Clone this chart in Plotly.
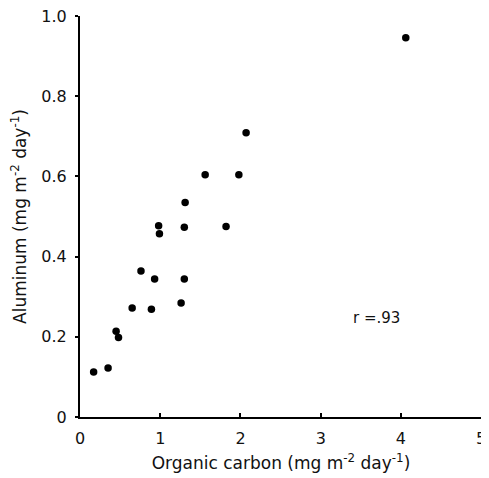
import plotly.graph_objects as go

organic_carbon = [0.17, 0.35, 0.45, 0.48, 0.65, 0.76, 0.89, 0.93, 0.98, 0.99,
                  1.26, 1.30, 1.30, 1.31, 1.56, 1.82, 1.98, 2.07, 4.06]
aluminum = [0.112, 0.122, 0.214, 0.198, 0.272, 0.364, 0.269, 0.344, 0.477, 0.457,
            0.284, 0.344, 0.473, 0.535, 0.604, 0.475, 0.604, 0.709, 0.946]

x_ticks = [0, 1, 2, 3, 4, 5]
x_ticktext = ["0", "1", "2", "3", "4", "5"]
y_ticks = [0, 0.2, 0.4, 0.6, 0.8, 1.0]
y_ticktext = ["0", "0.2", "0.4", "0.6", "0.8", "1.0"]

tick_font = dict(family="DejaVu Sans, sans-serif", size=16, color="#111")
title_font = dict(family="DejaVu Sans, sans-serif", size=17, color="#111")

fig = go.Figure()
fig.add_trace(go.Scatter(
    x=organic_carbon, y=aluminum, mode="markers",
    marker=dict(size=7.5, color="#000"),
    showlegend=False, cliponaxis=False,
))
fig.add_annotation(x=3.69, y=0.246, text="r =.93", showarrow=False,
                   font=dict(family="DejaVu Sans, sans-serif", size=15, color="#111"),
                   xref="x", yref="y")

# The page body adds an 8px offset, so the figure is sized to fill the rest of the window.
fig.update_layout(
    width=481, height=470,
    margin=dict(l=72, r=7, t=8, b=61),
    paper_bgcolor="white", plot_bgcolor="white",
    font=tick_font,
    xaxis=dict(range=[0, 5.01], tickvals=x_ticks, ticktext=x_ticktext, automargin=False,
               showline=True, linecolor="#000", linewidth=2, showgrid=False,
               zeroline=False, ticks="inside", ticklen=4, tickwidth=1.5, tickcolor="#000",
               tickfont=tick_font, ticklabeloverflow="allow", ticklabelstandoff=6,
               title=dict(text="Organic carbon (mg m<sup>-2</sup> day<sup>-1</sup>)",
                          font=title_font, standoff=10)),
    yaxis=dict(range=[0, 1.0], tickvals=y_ticks, ticktext=y_ticktext, automargin=False,
               showline=True, linecolor="#000", linewidth=2, showgrid=False,
               zeroline=False, ticks="outside", ticklen=3, tickwidth=1.5, tickcolor="#000",
               tickfont=tick_font, ticklabeloverflow="allow", ticklabelstandoff=5,
               title=dict(text="Aluminum (mg m<sup>-2</sup> day<sup>-1</sup>)",
                          font=title_font, standoff=14)),
)

fig.write_html("out.html")
